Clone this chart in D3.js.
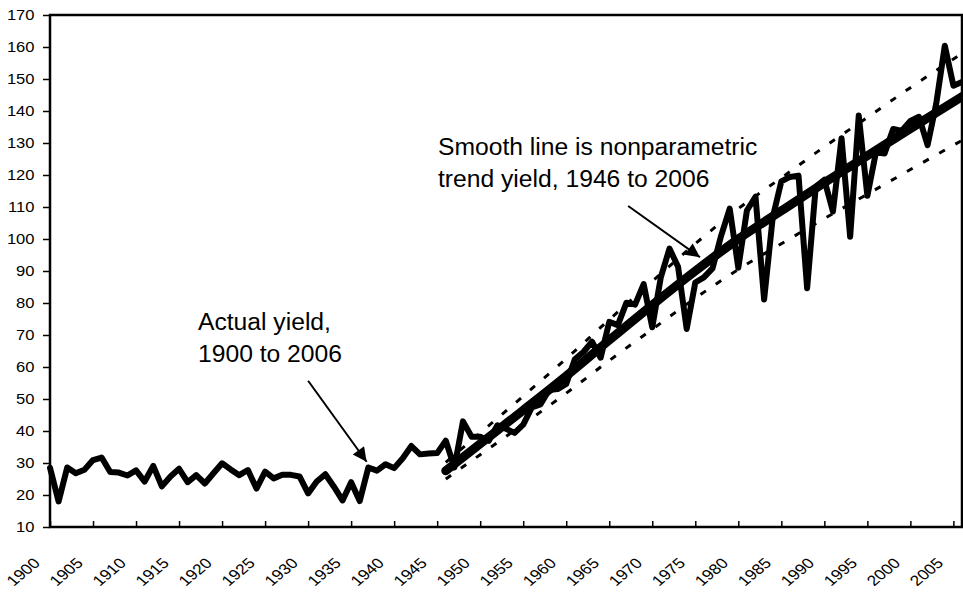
<!DOCTYPE html>
<html>
<head>
<meta charset="utf-8">
<script src="https://cdn.jsdelivr.net/npm/d3@7"></script>
<style>
  html, body { margin: 0; padding: 0; background: #fff; }
  svg { display: block; font-family: "Liberation Sans", Arial, sans-serif; }
</style>
</head>
<body>
<svg id="chart" width="963" height="593"></svg>
<script>
// ---- data ----
const years = d3.range(1900, 2007);
const actualYield = [
  28.5, 18.0, 28.6, 26.8, 27.9, 30.9, 31.7, 27.2, 27.0, 26.1,
  27.7, 24.2, 29.1, 22.7, 25.8, 28.2, 24.0, 26.2, 23.6, 26.8,
  29.9, 28.0, 26.2, 27.8, 22.0, 27.3, 25.2, 26.3, 26.3, 25.8,
  20.5, 24.2, 26.5, 22.6, 18.3, 24.0, 18.1, 28.6, 27.6, 29.6,
  28.4, 31.5, 35.3, 32.7, 33.0, 33.1, 37.0, 28.6, 43.0, 38.2,
  38.2, 36.9, 41.8, 40.7, 39.4, 42.0, 47.4, 48.3, 52.8, 53.1,
  54.7, 62.4, 64.7, 67.9, 62.9, 74.1, 73.1, 80.1, 79.5, 85.9,
  72.4, 88.1, 97.0, 91.3, 71.9, 86.4, 88.0, 90.8, 101.0, 109.5,
  91.0, 108.9, 113.2, 81.1, 106.7, 118.0, 119.4, 119.8, 84.6, 116.3,
  118.5, 108.6, 131.5, 100.7, 138.6, 113.5, 127.1, 126.7, 134.4, 133.8,
  136.9, 138.2, 129.3, 142.2, 160.4, 147.9, 149.1
];
const trendYears = [1946, 1950, 1955, 1960, 1965, 1970, 1975, 1980, 1985, 1990, 1995, 2000, 2006];
const trendYield = [27.6, 36.0, 46.5, 57.2, 68.4, 79.4, 90.0, 100.0, 108.8, 117.6, 126.0, 134.5, 144.5];
const upperBand  = [30.2, 39.4, 50.9, 62.6, 74.8, 86.8, 98.5, 109.5, 119.1, 128.8, 138.0, 147.3, 158.0];
const lowerBand  = [25.0, 32.6, 42.1, 51.8, 62.0, 71.8, 81.5, 90.5, 98.5, 106.4, 114.0, 121.7, 130.8];
const yTicks = d3.range(10, 171, 10);
const xTicks = d3.range(1900, 2006, 5);
const notes = [
  { lines: ["Actual yield,", "1900 to 2006"], x: 198, y: 330, from: [1930.0, 55.7], to: [1936.8, 30.4] },
  { lines: ["Smooth line is nonparametric", "trend yield, 1946 to 2006"], x: 438, y: 155, from: [1967.2, 110.3], to: [1975.55, 94.3] }
];

// ---- layout ----
const svg = d3.select("#chart");
const mLeft = 50, mRight = 962, mTop = 15, mBottom = 527;
const x = d3.scaleLinear().domain([1900, 2006]).range([mLeft, mRight]);
const y = d3.scaleLinear().domain([10, 170]).range([mBottom, mTop]);
const stretch = 1.2;

// ---- axes ----
const yAxis = svg.append("g").attr("transform", `translate(${mLeft},0)`)
  .call(d3.axisLeft(y).tickValues(yTicks).tickSize(7));
yAxis.select(".domain").remove();
yAxis.selectAll(".tick line").attr("stroke", "#000").attr("stroke-width", 1.5);
yAxis.selectAll(".tick text").attr("font-size", 13.8).attr("fill", "#000")
  .attr("font-family", "Liberation Sans, Arial, sans-serif")
  .attr("text-anchor", "end")
  .attr("x", -15.5 / stretch)
  .attr("transform", `scale(${stretch},1)`);

const xAxis = svg.append("g").attr("transform", `translate(0,${mBottom})`)
  .call(d3.axisBottom(x).tickValues(xTicks).tickSizeInner(-6).tickSizeOuter(0).tickFormat(d3.format("d")));
xAxis.select(".domain").remove();
xAxis.selectAll(".tick line").attr("stroke", "#000").attr("stroke-width", 1.5);
xAxis.selectAll(".tick text")
  .attr("font-size", 14.5).attr("fill", "#000")
  .attr("font-family", "Liberation Sans, Arial, sans-serif")
  .attr("text-anchor", "end")
  .attr("x", 0).attr("y", 0).attr("dy", "0")
  .attr("transform", `translate(-9.5,37) scale(${stretch},1) rotate(-45)`);

// ---- lines ----
const actualLine = d3.line().x((d, i) => x(years[i])).y(d => y(d));
svg.append("path").datum(actualYield)
  .attr("d", actualLine).attr("fill", "none").attr("stroke", "#000")
  .attr("stroke-width", 6).attr("stroke-linejoin", "round").attr("stroke-linecap", "round");

const bandLine = d3.line().x((d, i) => x(trendYears[i])).y(d => y(d)).curve(d3.curveMonotoneX);
[upperBand, lowerBand].forEach(b => {
  svg.append("path").datum(b).attr("d", bandLine).attr("fill", "none")
    .attr("stroke", "#000").attr("stroke-width", 3).attr("stroke-dasharray", "6.5,12");
});
svg.append("path").datum(trendYield).attr("d", bandLine).attr("fill", "none")
  .attr("stroke", "#000").attr("stroke-width", 9).attr("stroke-linecap", "round");

// ---- frame ----
svg.append("rect").attr("x", mLeft).attr("y", mTop).attr("width", mRight - mLeft).attr("height", mBottom - mTop)
  .attr("fill", "none").attr("stroke", "#000").attr("stroke-width", 2.5);

// ---- annotations ----
const defs = svg.append("defs");
defs.append("marker").attr("id", "arrow").attr("viewBox", "0 0 10 10")
  .attr("refX", 10).attr("refY", 5).attr("markerWidth", 8.5).attr("markerHeight", 7)
  .attr("markerUnits", "strokeWidth").attr("orient", "auto")
  .append("path").attr("d", "M0,0 L10,5 L0,10 Z").attr("fill", "#000");

notes.forEach(n => {
  const t = svg.append("text").attr("x", n.x / 1.05).attr("y", n.y)
    .attr("font-size", 23.5).attr("fill", "#000")
    .attr("transform", "scale(1.05,1)");
  n.lines.forEach((l, i) => t.append("tspan").attr("x", n.x / 1.05).attr("dy", i === 0 ? 0 : 32).text(l));
  svg.append("line")
    .attr("x1", x(n.from[0])).attr("y1", y(n.from[1]))
    .attr("x2", x(n.to[0])).attr("y2", y(n.to[1]))
    .attr("stroke", "#000").attr("stroke-width", 2).attr("marker-end", "url(#arrow)");
});
</script>
</body>
</html>
